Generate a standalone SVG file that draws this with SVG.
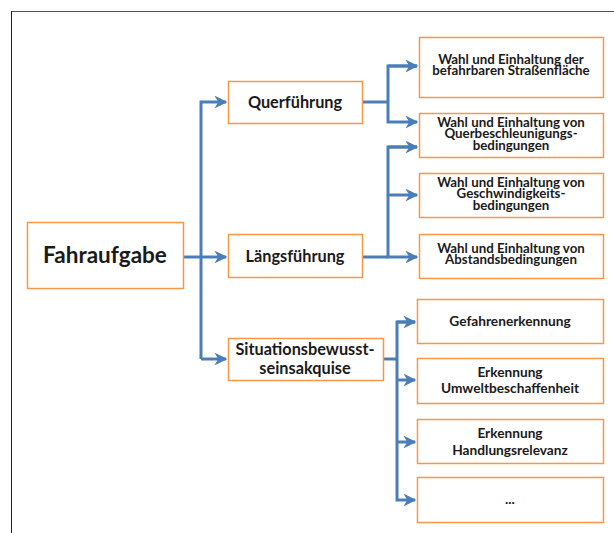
<svg xmlns="http://www.w3.org/2000/svg" width="614" height="533" viewBox="0 0 614 533">
  <style>
    .box { fill: #ffffff; stroke: #f79646; stroke-width: 1.5; }
    .lbl { font-family: Lato, "Open Sans", "Liberation Sans", sans-serif; font-weight: bold; fill: #1a1a1a; text-anchor: middle; }
    .big { font-size: 22.5px; }
    .mid { font-size: 16.3px; }
    .sm { font-size: 13.3px; }
    .sm2 { font-size: 13.7px; }
    .wire { fill: none; stroke: #4a7ebb; stroke-width: 3; stroke-linejoin: miter; }
  </style>
  <defs>
    <marker id="arrow" viewBox="0 0 10 10" refX="9" refY="5" markerWidth="4.3" markerHeight="4.3" orient="auto" markerUnits="strokeWidth">
      <path d="M0,0 L10,5 L0,10 L3,5 Z" fill="#4a7ebb"/>
    </marker>
  </defs>
  <rect width="614" height="533" fill="#ffffff"/>

  <!-- frame -->
  <g id="frame">
    <line x1="11" y1="11.5" x2="614" y2="11.5" stroke="#555" stroke-width="1"/>
    <line x1="11.5" y1="11" x2="11.5" y2="533" stroke="#222" stroke-width="1"/>
  </g>

  <!-- connectors -->
  <g id="connectors">
    <line class="wire" x1="183" y1="257" x2="201" y2="257"/>
    <path class="wire" d="M201,359 L201,102 L226,102" marker-end="url(#arrow)"/>
    <line class="wire" x1="201" y1="257" x2="226" y2="257" marker-end="url(#arrow)"/>
    <line class="wire" x1="201" y1="359" x2="226" y2="359" marker-end="url(#arrow)"/>

    <line class="wire" x1="362" y1="102" x2="388" y2="102"/>
    <path class="wire" d="M417,66 L388,66 L388,122 L417,122" marker-end="url(#arrow)"/>
    <path class="wire" d="M388,66 L417,66" marker-end="url(#arrow)"/>

    <line class="wire" x1="362" y1="257" x2="388" y2="257"/>
    <path class="wire" d="M417,147 L388,147 L388,257 L417,257" marker-end="url(#arrow)"/>
    <path class="wire" d="M388,147 L417,147" marker-end="url(#arrow)"/>
    <line class="wire" x1="388" y1="195" x2="417" y2="195" marker-end="url(#arrow)"/>

    <line class="wire" x1="383" y1="359" x2="397" y2="359"/>
    <path class="wire" d="M415,322 L397,322 L397,500 L415,500" marker-end="url(#arrow)"/>
    <path class="wire" d="M397,322 L415,322" marker-end="url(#arrow)"/>
    <line class="wire" x1="397" y1="380" x2="415" y2="380" marker-end="url(#arrow)"/>
    <line class="wire" x1="397" y1="442" x2="415" y2="442" marker-end="url(#arrow)"/>
  </g>

  <!-- nodes -->
  <g id="fahraufgabe">
    <rect class="box" x="27.5" y="222.5" width="156" height="66"/>
    <text class="lbl big" x="105" y="263">Fahraufgabe</text>
  </g>
  <g id="querfuehrung">
    <rect class="box" x="228.5" y="81.5" width="134" height="42"/>
    <text class="lbl mid" x="295" y="108">Querführung</text>
  </g>
  <g id="laengsfuehrung">
    <rect class="box" x="228.5" y="234.5" width="134" height="43"/>
    <text class="lbl mid" x="295" y="262">Längsführung</text>
  </g>
  <g id="situation">
    <rect class="box" x="228.5" y="338.5" width="155" height="42"/>
    <text class="lbl mid" x="305" y="355">Situationsbewusst-</text>
    <text class="lbl mid" x="305" y="374">seinsakquise</text>
  </g>

  <g id="strassenflaeche">
    <rect class="box" x="419.5" y="37.5" width="184" height="60"/>
    <text class="lbl sm" x="511" y="63.5">Wahl und Einhaltung der</text>
    <text class="lbl sm" x="511" y="75">befahrbaren Straßenfläche</text>
  </g>
  <g id="querbeschleunigung">
    <rect class="box" x="419.5" y="113.5" width="184" height="44"/>
    <text class="lbl sm" x="511" y="126.5">Wahl und Einhaltung von</text>
    <text class="lbl sm" x="511" y="138">Querbeschleunigungs-</text>
    <text class="lbl sm" x="511" y="149.5">bedingungen</text>
  </g>
  <g id="geschwindigkeit">
    <rect class="box" x="419.5" y="173.5" width="184" height="44"/>
    <text class="lbl sm" x="511" y="186.5">Wahl und Einhaltung von</text>
    <text class="lbl sm" x="511" y="198">Geschwindigkeits-</text>
    <text class="lbl sm" x="511" y="209.5">bedingungen</text>
  </g>
  <g id="abstand">
    <rect class="box" x="419.5" y="234.5" width="184" height="44"/>
    <text class="lbl sm" x="511" y="252.5">Wahl und Einhaltung von</text>
    <text class="lbl sm" x="511" y="264">Abstandsbedingungen</text>
  </g>

  <g id="gefahren">
    <rect class="box" x="417.5" y="299.5" width="186" height="44"/>
    <text class="lbl sm2" x="510" y="326">Gefahrenerkennung</text>
  </g>
  <g id="umwelt">
    <rect class="box" x="417.5" y="358.5" width="186" height="45"/>
    <text class="lbl sm2" x="510" y="377">Erkennung</text>
    <text class="lbl sm2" x="510" y="393">Umweltbeschaffenheit</text>
  </g>
  <g id="handlung">
    <rect class="box" x="417.5" y="419.5" width="186" height="44"/>
    <text class="lbl sm2" x="510" y="438">Erkennung</text>
    <text class="lbl sm2" x="510" y="455">Handlungsrelevanz</text>
  </g>
  <g id="weitere">
    <rect class="box" x="417.5" y="477.5" width="186" height="45"/>
    <text class="lbl sm2" x="510" y="504">...</text>
  </g>
</svg>
